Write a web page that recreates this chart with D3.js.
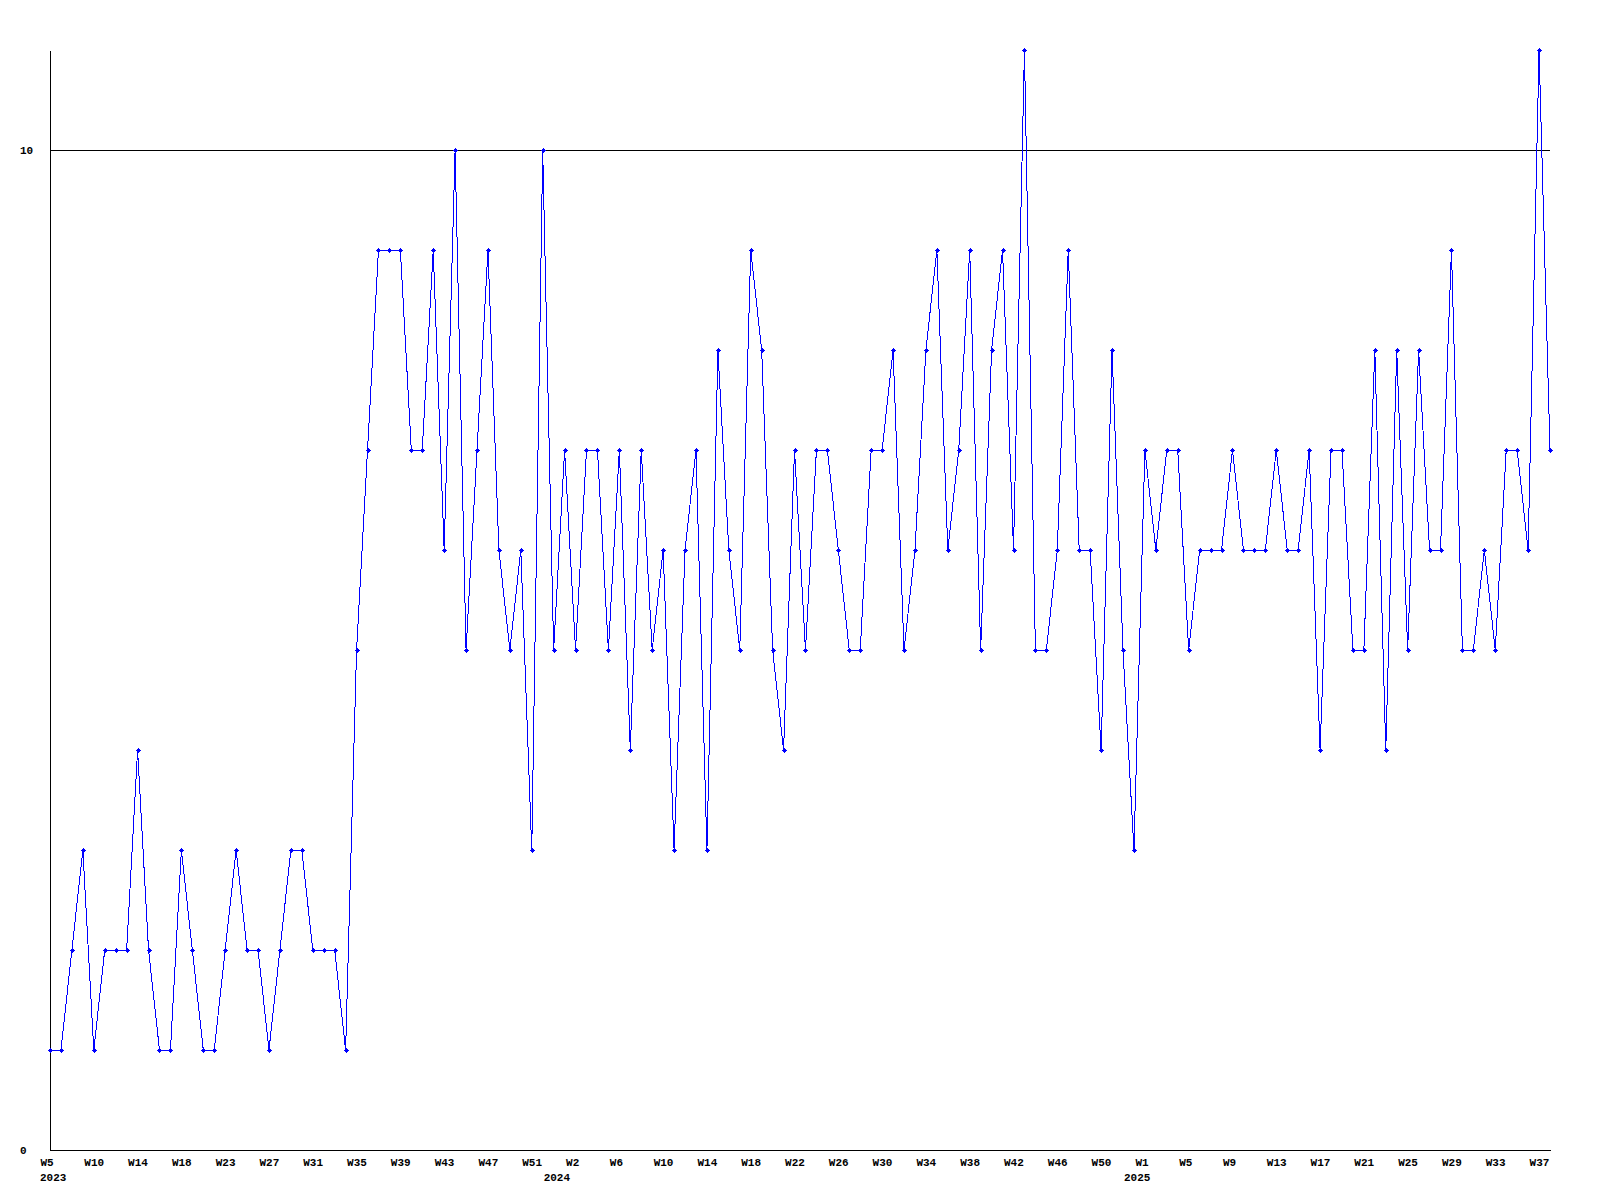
<!DOCTYPE html>
<html>
<head>
<meta charset="utf-8">
<script src="https://cdn.jsdelivr.net/npm/d3@7"></script>
<style>
  html, body { margin: 0; padding: 0; background: #ffffff; }
  svg { display: block; }
  text { font-family: "Liberation Mono", "DejaVu Sans Mono", monospace; font-weight: bold; font-size: 11px; fill: #000; }
</style>
</head>
<body>
<svg id="chart" width="1600" height="1200"></svg>
<script>
// Weekly values, one per point (2023 W5 … 2025 W38)
const values = [
  1, 1, 2, 3, 1, 2, 2, 2, 4, 2,
  1, 1, 3, 2, 1, 1, 2, 3, 2, 2,
  1, 2, 3, 3, 2, 2, 2, 1, 5, 7,
  9, 9, 9, 7, 7, 9, 6, 10, 5, 7,
  9, 6, 5, 6, 3, 10, 5, 7, 5, 7,
  7, 5, 7, 4, 7, 5, 6, 3, 6, 7,
  3, 8, 6, 5, 9, 8, 5, 4, 7, 5,
  7, 7, 6, 5, 5, 7, 7, 8, 5, 6,
  8, 9, 6, 7, 9, 5, 8, 9, 6, 11,
  5, 5, 6, 9, 6, 6, 4, 8, 5, 3,
  7, 6, 7, 7, 5, 6, 6, 6, 7, 6,
  6, 6, 7, 6, 6, 7, 4, 7, 7, 5,
  5, 8, 4, 8, 5, 8, 6, 6, 9, 5,
  5, 6, 5, 7, 7, 6, 11, 7
];

// Tick labels, shown on every 4th point
const tickLabels = [
  "W5", "W10", "W14", "W18", "W23", "W27", "W31", "W35", "W39", "W43", "W47", "W51",
  "W2", "W6", "W10", "W14", "W18", "W22", "W26", "W30", "W34", "W38", "W42", "W46", "W50",
  "W1", "W5", "W9", "W13", "W17", "W21", "W25", "W29", "W33", "W37"
];
const tickStep = 4;

// Year labels and the point where each year begins
const years = ["2023", "2024", "2025"];
const yearStartPoint = [0, 46, 99];

const yTicks = [0, 10];
const refLine = 10;
const yMax = 11;

const svg = d3.select("#chart");
const mLeft = 50, mRight = 1550, mTop = 50, mBottom = 1150;

const x = d3.scalePoint().domain(d3.range(values.length)).range([mLeft, mRight]);
const y = d3.scaleLinear().domain([0, yMax]).range([mBottom, mTop]);

// Reference line at 10
svg.append("line")
  .attr("x1", mLeft).attr("x2", mRight)
  .attr("y1", y(refLine) + 0.5).attr("y2", y(refLine) + 0.5)
  .attr("stroke", "#000").attr("stroke-width", 1)
  .attr("shape-rendering", "crispEdges");

// Y axis
const yAxis = svg.append("g")
  .attr("transform", `translate(${mLeft},0)`)
  .call(d3.axisLeft(y).tickValues(yTicks).tickSize(0).tickSizeOuter(0).tickFormat(d3.format("d")));
yAxis.select(".domain").attr("stroke", "#000").attr("shape-rendering", "crispEdges");
yAxis.selectAll(".tick text")
  .attr("x", 20 - mLeft).attr("text-anchor", "start")
  .attr("dy", "0.35em")
  .style("font-family", "\"Liberation Mono\", monospace").style("font-weight", "bold").style("font-size", "11px").attr("fill", "#000");

// X axis
const tickIdx = tickLabels.map((_, k) => k * tickStep);
const xAxis = svg.append("g")
  .attr("transform", `translate(0,${mBottom})`)
  .call(d3.axisBottom(x).tickValues(tickIdx).tickSize(0).tickSizeOuter(0)
    .tickFormat((d, i) => tickLabels[i]));
xAxis.select(".domain").attr("stroke", "#000").attr("shape-rendering", "crispEdges");
xAxis.selectAll(".tick text")
  .attr("x", -10).attr("y", 16).attr("dy", 0)
  .attr("text-anchor", "start")
  .style("font-family", "\"Liberation Mono\", monospace").style("font-weight", "bold").style("font-size", "11px").attr("fill", "#000");

// Year labels
svg.append("g").selectAll("text")
  .data(years)
  .join("text")
  .attr("x", (d, i) => x(yearStartPoint[i]) - 10)
  .attr("y", mBottom + 31)
  .attr("text-anchor", "start")
  .text(d => d);

// Data line
const line = d3.line().x((d, i) => x(i)).y(d => y(d));
svg.append("path")
  .datum(values)
  .attr("d", line)
  .attr("fill", "none")
  .attr("stroke", "#0000ff")
  .attr("stroke-width", 1)
  .attr("shape-rendering", "crispEdges");

// Markers
const markers = svg.append("g");
markers.selectAll("path.mk")
  .data(values)
  .join("path")
  .attr("class", "mk")
  .attr("d", (d, i) => {
    const cx = Math.round(x(i)), cy = Math.round(y(d));
    return `M${cx - 2.5},${cy - 0.5}h5v1h-5z M${cx - 0.5},${cy - 2.5}h1v5h-1z M${cx - 1.5},${cy - 1.5}h3v3h-3z`;
  })
  .attr("fill", "#0000ff")
  .attr("shape-rendering", "crispEdges");
</script>
</body>
</html>
